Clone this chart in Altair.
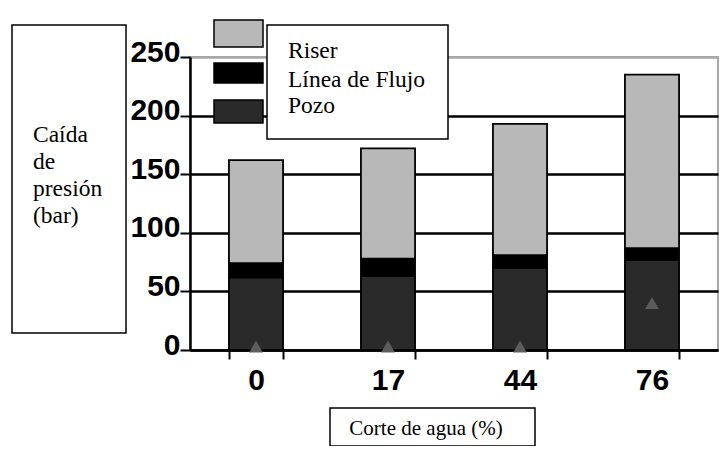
import altair as alt
import pandas as pd

# ---- data ----
categories = ["0", "17", "44", "76"]          # Corte de agua (%)
pozo = [62, 63, 70, 77]                       # bottom segment
linea = [12, 15, 11, 10]                      # middle (black) segment
riser = [88, 94, 112, 148]                    # top segment
marker = [3, 3, 3, 40]                        # grey triangle markers
series = ["Pozo", "Línea de Flujo", "Riser"]
legend_order = ["Riser", "Línea de Flujo", "Pozo"]
colors = ["#2a2a2a", "#000000", "#b8b8b8"]
y_ticks = [0, 50, 100, 150, 200, 250]
y_title_lines = ["Caída", "de", "presión", "(bar)"]
x_title = "Corte de agua (%)"

rows = []
for i, c in enumerate(categories):
    for k, (s, vals) in enumerate(zip(series, [pozo, linea, riser])):
        rows.append({"corte": c, "serie": s, "valor": vals[i], "idx": k})
df = pd.DataFrame(rows)
df_marker = pd.DataFrame({"corte": categories, "valor": marker})

one = pd.DataFrame({"a": [0]})
SERIF = "Liberation Serif"
SANS = "Liberation Sans"

x_enc = alt.X(
    "corte:N", sort=categories, title=None,
    scale=alt.Scale(paddingInner=0.59, paddingOuter=0.295),
    axis=alt.Axis(labelAngle=0, labelFont=SANS, labelFontSize=30, labelFontWeight="bold",
                  labelColor="black", labelPadding=6, tickBand="extent", tickColor="black",
                  tickWidth=2, tickSize=9, domainColor="black", domainWidth=2.5, grid=False),
)
y_scale = alt.Scale(domain=[0, 250], nice=False)

bars = alt.Chart(df).mark_bar(stroke="black", strokeWidth=1.8).encode(
    x=x_enc,
    y=alt.Y("valor:Q", stack="zero", scale=y_scale, title=None,
            axis=alt.Axis(values=y_ticks, labelFont=SANS, labelFontSize=30, labelFontWeight="bold",
                          labelColor="black", labelPadding=0, labelOffset=-5,
                          tickColor="black", tickWidth=2, tickSize=10,
                          domainColor="black", domainWidth=2.5, grid=True,
                          gridColor={"condition": {"test": "datum.value >= 250", "value": "#a8a8a8"},
                                     "value": "black"},
                          gridWidth=2.5)),
    color=alt.Color("serie:N", scale=alt.Scale(domain=series, range=colors), legend=None),
    order=alt.Order("idx:Q"),
)

tri = alt.Chart(df_marker).mark_point(shape="triangle-up", filled=True, color="#5c5c5c",
                                      size=190, opacity=1).encode(
    x=alt.X("corte:N", sort=categories),
    y=alt.Y("valor:Q", scale=y_scale),
)

layers = [bars, tri]

# y-title box
layers.append(alt.Chart(one).mark_rect(fill="white", stroke="black", strokeWidth=1.5).encode(
    x=alt.value(-178), x2=alt.value(-64), y=alt.value(-32), y2=alt.value(276)))
layers.append(alt.Chart(one).mark_text(font=SERIF, fontSize=23.5, align="left", baseline="alphabetic",
                                       lineHeight=27, color="black").encode(
    x=alt.value(-157), y=alt.value(85), text=alt.value(y_title_lines)))

# legend box
layers.append(alt.Chart(one).mark_rect(fill="white", stroke="black", strokeWidth=1.5).encode(
    x=alt.value(77), x2=alt.value(258), y=alt.value(-32), y2=alt.value(82)))
swatch_y = {"Riser": (-37, -10), "Línea de Flujo": (6, 26), "Pozo": (43, 66)}
label_y = {"Riser": 1, "Línea de Flujo": 30, "Pozo": 56}
for name in legend_order:
    col = colors[series.index(name)]
    y0, y1 = swatch_y[name]
    layers.append(alt.Chart(one).mark_rect(fill=col, stroke="black", strokeWidth=1.5).encode(
        x=alt.value(24), x2=alt.value(73), y=alt.value(y0), y2=alt.value(y1)))
    layers.append(alt.Chart(one).mark_text(font=SERIF, fontSize=23.5, align="left",
                                           baseline="alphabetic", color="black").encode(
        x=alt.value(98), y=alt.value(label_y[name]), text=alt.value(name)))

# x-title box
layers.append(alt.Chart(one).mark_rect(fill="white", stroke="black", strokeWidth=1.5).encode(
    x=alt.value(140), x2=alt.value(345), y=alt.value(351), y2=alt.value(389)))
layers.append(alt.Chart(one).mark_text(font=SERIF, fontSize=21, align="center",
                                       baseline="alphabetic", color="black").encode(
    x=alt.value(236), y=alt.value(378), text=alt.value(x_title)))

chart = alt.layer(*layers).properties(
    width=528, height=293,
    padding={"left": 182, "top": 49, "right": 1, "bottom": 96},
    autosize="none",
    background="white",
).configure_view(stroke="#a8a8a8", strokeWidth=2)

chart.save("out.html", embed_options={"renderer": "svg", "actions": False})
